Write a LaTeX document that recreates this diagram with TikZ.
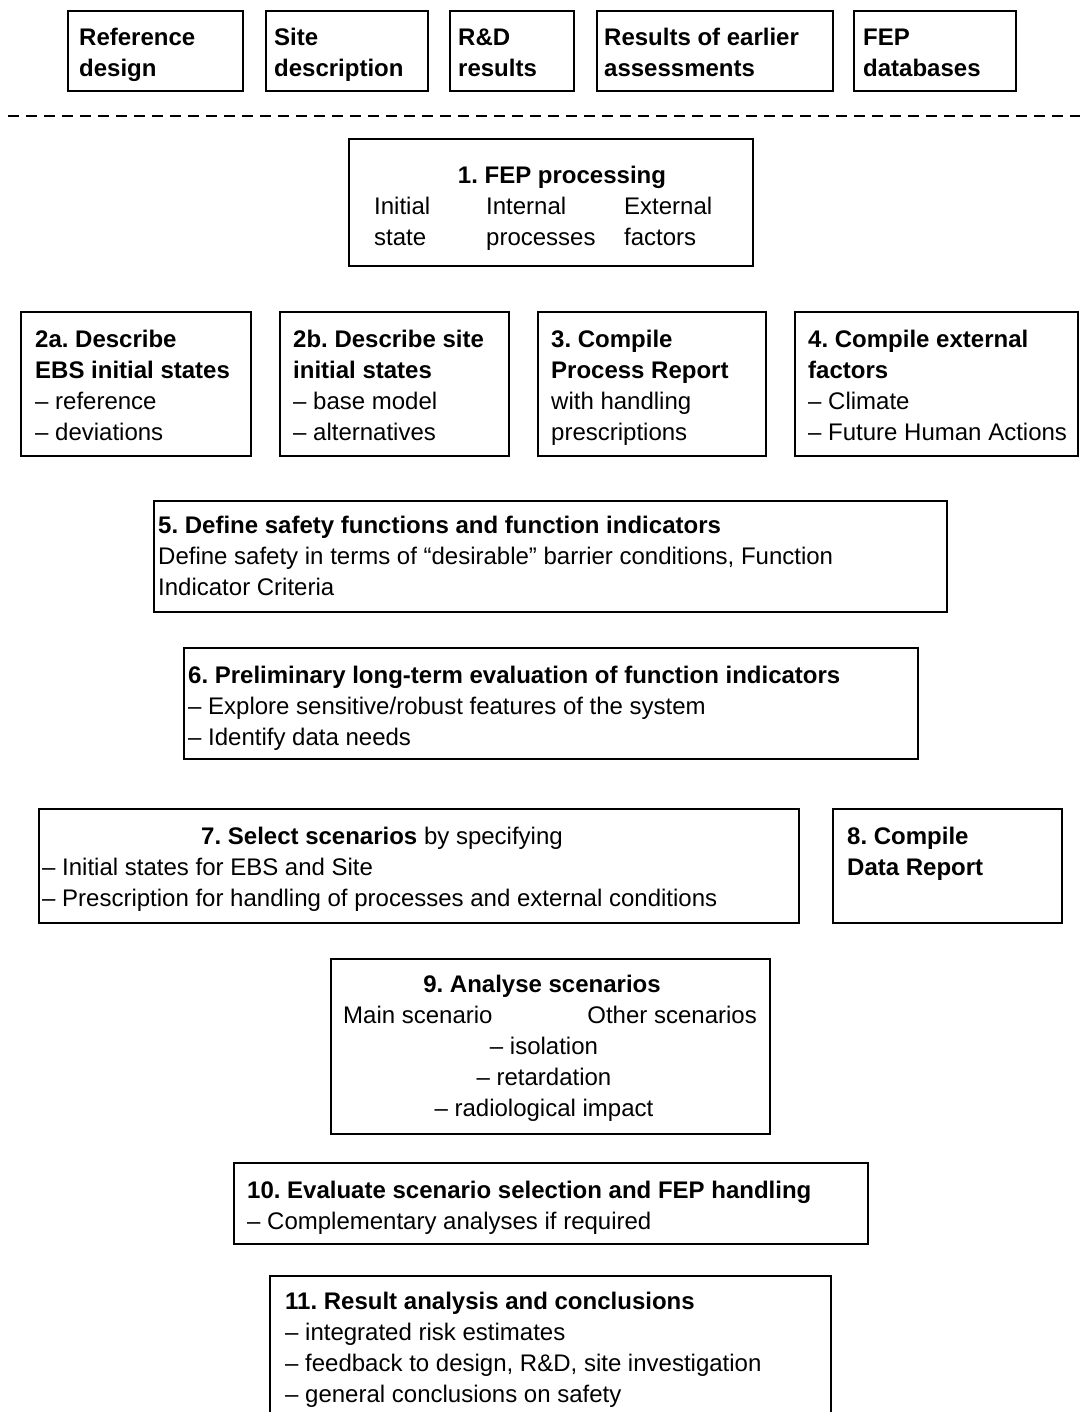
\documentclass[tikz,border=0pt]{standalone}
\usepackage{fontspec}
\setmainfont{Liberation Sans}
\usetikzlibrary{positioning}
\frenchspacing
\tikzset{
    stage/.style={draw=black, line width=1.6pt, anchor=north west, inner sep=0pt},
    boxtext/.style={anchor=base west, align=left, inner sep=0pt},
    boxtitle/.style={anchor=base, align=center, inner sep=0pt},
    separator/.style={draw=black, line width=1.4pt, dash pattern=on 11pt off 7pt},
}
\newcommand{\stagebox}[5]{%
  \node[stage, minimum width=#4-#2, minimum height=#5-#3] (#1) at (#2,#3) {};}

\begin{document}
\begin{tikzpicture}[x=1pt, y=-1pt, font=\fontsize{24}{31}\selectfont]
\useasboundingbox (0,0) rectangle (1080,1412);
\clip (0,0) rectangle (1080,1412);

% input boxes (text nodes sit on the baseline of their last line)
\stagebox{refdesign}{67}{10}{242}{90}
\stagebox{sitedesc}{265}{10}{427}{90}
\stagebox{rdresults}{449}{10}{573}{90}
\stagebox{earlier}{596}{10}{832}{90}
\stagebox{fepdb}{853}{10}{1015}{90}
\node[boxtext] (refdesign-t) at (79,77) {\textbf{Reference}\\\textbf{design}};
\node[boxtext] (sitedesc-t) at (274,77) {\textbf{Site}\\\textbf{description}};
\node[boxtext] (rdresults-t) at (458,77) {\textbf{R\&D}\\\textbf{results}};
\node[boxtext] (earlier-t) at (604,77) {\textbf{Results of earlier}\\\textbf{assessments}};
\node[boxtext] (fepdb-t) at (863,77) {\textbf{FEP}\\\textbf{databases}};

\coordinate (sepL) at (8,116);
\coordinate (sepR) at (1080,116);
\draw[separator] (sepL) -- (sepR);

% 1. FEP processing
\stagebox{fep}{348}{138}{752}{265}
\node[boxtitle] (fep-t) at (562,184) {\textbf{1. FEP processing}};
\node[boxtext] (fep-a) at (374,246) {Initial\\state};
\node[boxtext] (fep-b) at (486,246) {Internal\\processes};
\node[boxtext] (fep-c) at (624,246) {External\\factors};

% 2a, 2b, 3, 4
\stagebox{ebs}{20}{311}{250}{455}
\stagebox{siteinit}{279}{311}{508}{455}
\stagebox{process}{537}{311}{765}{455}
\stagebox{external}{794}{311}{1077}{455}
\node[boxtext] (ebs-t) at (35,440) {\textbf{2a. Describe}\\\textbf{EBS initial states}\\-- reference\\-- deviations};
\node[boxtext] (siteinit-t) at (293,440) {\textbf{2b. Describe site}\\\textbf{initial states}\\-- base model\\-- alternatives};
\node[boxtext] (process-t) at (551,440) {\textbf{3. Compile}\\\textbf{Process Report}\\with handling\\prescriptions};
\node[boxtext] (external-t) at (808,440) {\textbf{4. Compile external}\\\textbf{factors}\\-- Climate\\-- Future Human Actions};

% 5 and 6
\stagebox{safety}{153}{500}{946}{611}
\node[boxtext] (safety-t) at (158,595) {\textbf{5. Define safety functions and function indicators}\\Define safety in terms of ``desirable'' barrier conditions, Function\\Indicator Criteria};
\stagebox{prelim}{183}{647}{917}{758}
\node[boxtext] (prelim-t) at (188,745) {\textbf{6. Preliminary long-term evaluation of function indicators}\\-- Explore sensitive/robust features of the system\\-- Identify data needs};

% 7 and 8
\stagebox{select}{38}{808}{798}{922}
\node[boxtitle] (select-t) at (382,844) {\textbf{7. Select scenarios} by specifying};
\node[boxtext] (select-b) at (42,906) {-- Initial states for EBS and Site\\-- Prescription for handling of processes and external conditions};
\stagebox{datarep}{832}{808}{1061}{922}
\node[boxtext] (datarep-t) at (847,875) {\textbf{8. Compile}\\\textbf{Data Report}};

% 9. Analyse scenarios
\stagebox{analyse}{330}{958}{769}{1133}
\node[boxtitle] (analyse-t) at (542,992) {\textbf{9. Analyse scenarios}};
\node[boxtext] (analyse-main) at (343,1023) {Main scenario};
\node[anchor=base east, inner sep=0pt] (analyse-other) at (757,1023) {Other scenarios};
\node[boxtitle] (analyse-b) at (544,1116) {-- isolation\\-- retardation\\-- radiological impact};

% 10 and 11
\stagebox{evaluate}{233}{1162}{867}{1243}
\node[boxtext] (evaluate-t) at (247,1229) {\textbf{10. Evaluate scenario selection and FEP handling}\\-- Complementary analyses if required};
\stagebox{result}{269}{1275}{830}{1430}
\node[boxtext] (result-t) at (285,1402) {\textbf{11. Result analysis and conclusions}\\-- integrated risk estimates\\-- feedback to design, R\&D, site investigation\\-- general conclusions on safety};

\end{tikzpicture}
\end{document}
